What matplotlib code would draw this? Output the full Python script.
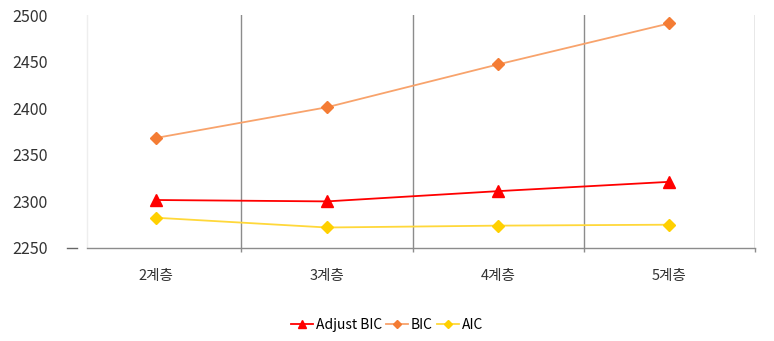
import numpy as np
import matplotlib
matplotlib.use('Agg')
import matplotlib.pyplot as plt

plt.rcParams['font.family'] = ['Noto Sans CJK KR', 'DejaVu Sans']

categories = ['2계층', '3계층', '4계층', '5계층']
adjust_bic = [2301.5, 2300, 2311, 2321]
bic = [2368, 2401, 2447, 2491]
aic = [2282.5, 2272, 2274, 2275]

fig = plt.figure(figsize=(7.74, 3.41), dpi=100)
ax = fig.add_axes([70/774, 1 - 248/341, 685/774, 233/341])

x = np.arange(len(categories))

ax.plot(x, adjust_bic, color='#FF0000', lw=1.3, marker='^', ms=8,
        markerfacecolor='#FF0000', markeredgecolor='#FF0000', label='Adjust BIC')
ax.plot(x, bic, color='#F8A36C', lw=1.3, marker='D', ms=6,
        markerfacecolor='#F47C34', markeredgecolor='#F47C34', label='BIC')
ax.plot(x, aic, color='#FFD83A', lw=1.3, marker='D', ms=6,
        markerfacecolor='#FFD000', markeredgecolor='#FFD000', label='AIC')

ax.set_xlim(-0.5, 3.5)
ax.set_ylim(2250, 2500)
ax.set_yticks([2250, 2300, 2350, 2400, 2450, 2500])
ax.tick_params(axis='y', length=0, pad=16, labelsize=11.5, labelcolor='#333333')
ax.set_xticks(x)
ax.set_xticklabels(categories)
ax.tick_params(axis='x', length=0, pad=15, labelsize=10.5, labelcolor='#333333')

ax.set_xticks([0.5, 1.5, 2.5, 3.5], minor=True)
ax.tick_params(axis='x', which='minor', length=3, color='#8C8C8C', width=1)
ax.grid(True, axis='x', which='minor', color='#8C8C8C', lw=1)
ax.grid(False, axis='x', which='major')

for s in ['left', 'top', 'right']:
    ax.spines[s].set_visible(False)
ax.spines['bottom'].set_color('#8C8C8C')
ax.spines['bottom'].set_linewidth(1)
ax.spines['bottom'].set_bounds(-0.4, 3.5)

# faint left border and small dash at 2250
ax.plot([-0.4, -0.4], [2250, 2500], color='#EEEEEE', lw=1, zorder=0)
ax.plot([-0.515, -0.46], [2250, 2250], color='#666666', lw=1, clip_on=False)

fig.legend(loc='center', bbox_to_anchor=(0.5, 1 - 325/341), ncol=3, frameon=False,
           fontsize=10, handlelength=1.6, handletextpad=0.2, columnspacing=0.3,
           markerscale=0.7)

fig.savefig('out.png', dpi=100)
